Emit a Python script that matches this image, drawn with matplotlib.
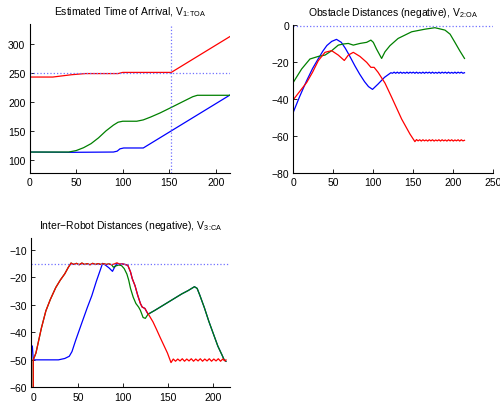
import matplotlib
matplotlib.use('Agg')
import matplotlib.pyplot as plt

plt.rcParams['font.family'] = ['Liberation Sans', 'DejaVu Sans']
plt.rcParams['mathtext.fontset'] = 'custom'
plt.rcParams['mathtext.rm'] = 'Liberation Sans'

BLUE = '#0000ff'
GREEN = '#008000'
RED = '#ff0000'
REF = '#7070ff'

# ---- Estimated time of arrival ----
toa_red_x = [0, 25, 35, 45, 60, 95, 100, 152, 215]
toa_red_y = [243, 243, 245, 247, 249, 249, 251, 251, 313]
toa_green_x = [0, 42, 50, 58, 66, 74, 82, 90, 95, 100, 115, 122, 130, 140, 152, 165, 175, 180, 215]
toa_green_y = [113.5, 113.5, 116, 121, 128, 138, 150, 160, 165, 166.7, 166.7, 169, 174, 181, 190.5,
               201, 209, 211.5, 211.5]
toa_blue_x = [0, 45, 90, 94, 97, 101, 122, 215]
toa_blue_y = [113.5, 113, 113.5, 115, 119, 120.5, 120.5, 212]
toa_ref = 250
toa_time = 152

# ---- Obstacle distances ----
oa_blue_x = [0, 8, 16.7, 24, 31, 37, 42, 48, 54, 60, 65, 70, 77, 83, 89, 94, 99, 106, 114, 122,
             124, 126, 128, 130, 132, 134, 136, 138, 140, 142, 144, 146, 148, 150, 152, 154, 156,
             158, 160, 162, 164, 166, 168, 170, 172, 174, 176, 178, 180, 182, 184, 186, 188, 190,
             192, 194, 196, 198, 200, 202, 204, 206, 208, 210, 212, 214]
oa_blue_y = [-47, -38.5, -30, -23.5, -18.3, -14, -11, -8.8, -7.7, -9.3, -12.5, -16.3, -22, -26.5,
             -30.5, -33.2, -34.7, -31.8, -28.2, -25.7,
             -26.0, -25.4, -26.0, -25.4, -26.0, -25.4, -26.0, -25.5, -26.0, -25.4, -26.0, -25.4,
             -25.9, -25.4, -26.0, -25.4, -26.0, -25.5, -26.0, -25.4, -26.0, -25.4, -25.9, -25.4,
             -26.0, -25.4, -26.0, -25.5, -26.0, -25.4, -26.0, -25.4, -25.9, -25.4, -26.0, -25.4,
             -26.0, -25.5, -26.0, -25.4, -26.0, -25.4, -25.9, -25.4, -26.0, -25.7]
oa_red_x = [0, 8, 16.7, 24, 31.25, 39.6, 47.9, 56.25, 63.75, 68.75, 75, 83.3, 91.7, 97, 101, 106,
            114.6, 123, 135.4, 145.8, 152, 154, 156, 158, 160, 162, 164, 166, 168, 170, 172, 174,
            176, 178, 180, 182, 184, 186, 188, 190, 192, 194, 196, 198, 200, 202, 204, 206, 208,
            210, 212, 214]
oa_red_y = [-40.3, -35.8, -31, -25.5, -19.2, -14.7, -13.8, -16.2, -19.1, -16.2, -14.7, -16.9,
            -20.1, -22.8, -22.8, -25.5, -31.3, -39, -50.7, -58.8, -62.9, -61.8, -62.5, -61.9,
            -62.6, -61.9, -62.5, -62.0, -62.6, -61.9, -62.5, -61.9, -62.6, -62.0, -62.5, -61.9,
            -62.6, -61.9, -62.5, -62.0, -62.6, -61.9, -62.5, -61.9, -62.6, -62.0, -62.5, -61.9,
            -62.6, -61.9, -62.5, -62.2]
oa_green_x = [0, 10.4, 20.8, 31.25, 39.6, 48, 56.25, 62.5, 68.75, 75, 83.3, 91.7, 97, 100, 104,
              110.4, 114.6, 120.8, 131, 148, 164.6, 177, 189.6, 196, 202, 208, 214]
oa_green_y = [-30.9, -23.7, -18.3, -16.9, -16.2, -13.8, -10.8, -10.2, -9.9, -10.8, -9.9, -9.3,
              -8.1, -9.3, -12.9, -18, -14.4, -11.1, -7.2, -3.6, -2.2, -1.4, -2.7, -4.9, -9.3,
              -13.8, -18]
oa_ref = -0.5

# ---- Inter-robot distances ----
ca_blue_x = [-1, 0, 28, 35, 40, 43, 47, 54, 60, 65, 70, 77, 80, 84, 88, 90, 92.7,
             96, 99, 102, 105, 108, 110, 113, 116, 119, 121, 124, 126, 127.5,
             135, 145, 155, 165, 172, 179, 182, 185, 190, 195, 200, 205, 210, 212, 214]
ca_blue_y = [-45, -50, -50, -49.5, -48.7, -47, -43, -36.5, -31, -26.7, -21.5, -14.9, -15.5, -16.5,
             -17.8, -16.5, -15,
             -15.2, -15.1, -15.3, -15.6, -18, -20.5, -23, -26.5, -29.5, -30.8, -31.3, -32.5, -33.4,
             -32, -30, -28, -26, -24.8, -23.4, -24, -26.5, -31, -36, -40.5, -45, -48.5, -50, -50.5]
ca_green_x = [0, 0, 3, 5, 9, 14, 19, 25, 30, 35, 39, 42, 45, 48, 51, 54, 57, 60, 63, 66, 69, 72,
              75, 78, 81, 84, 87, 89, 92, 95, 98, 101, 104, 106, 108, 111, 114, 117, 119, 122,
              124.5, 127.5, 135, 145, 155, 165, 172, 179, 182, 185, 190, 195, 200, 205, 210, 212,
              214]
ca_green_y = [-70, -50, -47.5, -44.5, -38.5, -32.2, -28, -23.7, -21, -18.7, -16.3, -14.8, -15.3,
              -14.9, -15.4, -14.8, -15.3, -15.0, -15.4, -14.9, -15.3, -15.0, -15.3, -15.0, -15.3,
              -15.1, -15.4, -16.3, -15.8, -15.5, -15.7, -16.8, -18.8, -21, -24, -27.2, -29.5,
              -30.8, -32, -34.6, -34.9, -33.4, -32, -30, -28, -26, -24.8, -23.4, -24, -26.5, -31,
              -36, -40.5, -45, -48.5, -50, -50.5]
ca_red_x = [0, 0, 3, 5, 9, 14, 19, 25, 30, 35, 39, 42, 45, 48, 51, 54, 57, 60, 63, 66, 69, 72, 75,
            78, 81, 84, 87, 90, 93, 96, 99, 102, 105, 108, 110, 113, 116, 119, 121, 124, 126,
            129, 133, 137, 141, 145, 149, 153, 155.5, 158, 160.5, 163, 165.5, 168, 170.5, 173,
            175.5, 178, 180.5, 183, 185.5, 188, 190.5, 193, 195.5, 198, 200.5, 203, 205.5, 208,
            210.5, 213, 214]
ca_red_y = [-70, -50, -47.5, -44.5, -38.5, -32.2, -28, -23.7, -21, -18.7, -16.3, -14.8, -15.3,
            -14.9, -15.4, -14.8, -15.3, -15.0, -15.4, -14.9, -15.3, -15.0, -15.3, -15.0, -15.3,
            -15.1, -15.4, -15.1, -14.7, -15.2, -15.1, -15.3, -15.6, -18, -20.5, -23, -26.5,
            -29.5, -30.8, -31.3, -32.5, -34, -36.2, -39, -41.9, -44.7, -47.5, -51, -49.7, -50.5,
            -49.7, -50.4, -49.6, -50.5, -49.7, -50.4, -49.6, -50.5, -49.7, -50.4, -49.6, -50.5,
            -49.7, -50.4, -49.6, -50.5, -49.7, -50.4, -49.6, -50.5, -49.7, -50.4, -50.0]
ca_ref = -15

fig = plt.figure(figsize=(5.0, 4.06), dpi=100)
ax1 = fig.add_axes([0.059, 0.571, 0.401, 0.368])
ax2 = fig.add_axes([0.5866, 0.5707, 0.40, 0.365])
ax3 = fig.add_axes([0.062, 0.0435, 0.398, 0.369])

lw = 0.9
fs = 7.5
tpad = 7.0

# Panel 1
ax1.plot(toa_blue_x, toa_blue_y, color=BLUE, lw=lw)
ax1.plot(toa_green_x, toa_green_y, color=GREEN, lw=lw)
ax1.plot(toa_red_x, toa_red_y, color=RED, lw=lw)
ax1.axhline(toa_ref, color=REF, ls=':', lw=0.9)
ax1.axvline(toa_time, color=REF, ls=':', lw=0.9)
ax1.set_xlim(0, 215)
ax1.set_ylim(77, 335)
ax1.set_xticks([0, 50, 100, 150, 200])
ax1.set_yticks([100, 150, 200, 250, 300])
ax1.set_title(r'Estimated Time of Arrival, V$_{\mathregular{1}\!:\!\mathregular{TOA}}$',
              fontsize=fs, pad=tpad)

# Panel 2
ax2.plot(oa_blue_x, oa_blue_y, color=BLUE, lw=lw)
ax2.plot(oa_green_x, oa_green_y, color=GREEN, lw=lw)
ax2.plot(oa_red_x, oa_red_y, color=RED, lw=lw)
ax2.axhline(oa_ref, color=REF, ls=':', lw=0.9)
ax2.set_xlim(0, 250)
ax2.set_ylim(-80, 0)
ax2.set_xticks([0, 50, 100, 150, 200, 250])
ax2.set_yticks([-80, -60, -40, -20, 0])
ax2.set_title(r'Obstacle Distances (negative), V$_{\mathregular{2}\!:\!\mathregular{OA}}$',
              fontsize=fs, pad=tpad)

# Panel 3
ax3.plot(ca_blue_x, ca_blue_y, color=BLUE, lw=lw)
ax3.plot(ca_green_x, ca_green_y, color=GREEN, lw=lw)
ax3.plot(ca_red_x, ca_red_y, color=RED, lw=lw)
ax3.axhline(ca_ref, color=REF, ls=':', lw=0.9)
ax3.set_xlim(-2.5, 218.5)
ax3.set_ylim(-60, -5.5)
ax3.set_xticks([0, 50, 100, 150, 200])
ax3.set_yticks([-60, -50, -40, -30, -20, -10])
ax3.set_title('Inter\u2212Robot Distances (negative), '
              r'V$_{\mathregular{3}\!:\!\mathregular{CA}}$', fontsize=fs, pad=tpad)

for ax in (ax1, ax2, ax3):
    ax.spines['top'].set_visible(False)
    ax.spines['right'].set_visible(False)
    ax.spines['left'].set_linewidth(0.8)
    ax.spines['bottom'].set_linewidth(0.8)
    ax.tick_params(direction='in', length=3, width=0.6, labelsize=fs, pad=3)

fig.savefig('out.png', dpi=100)
